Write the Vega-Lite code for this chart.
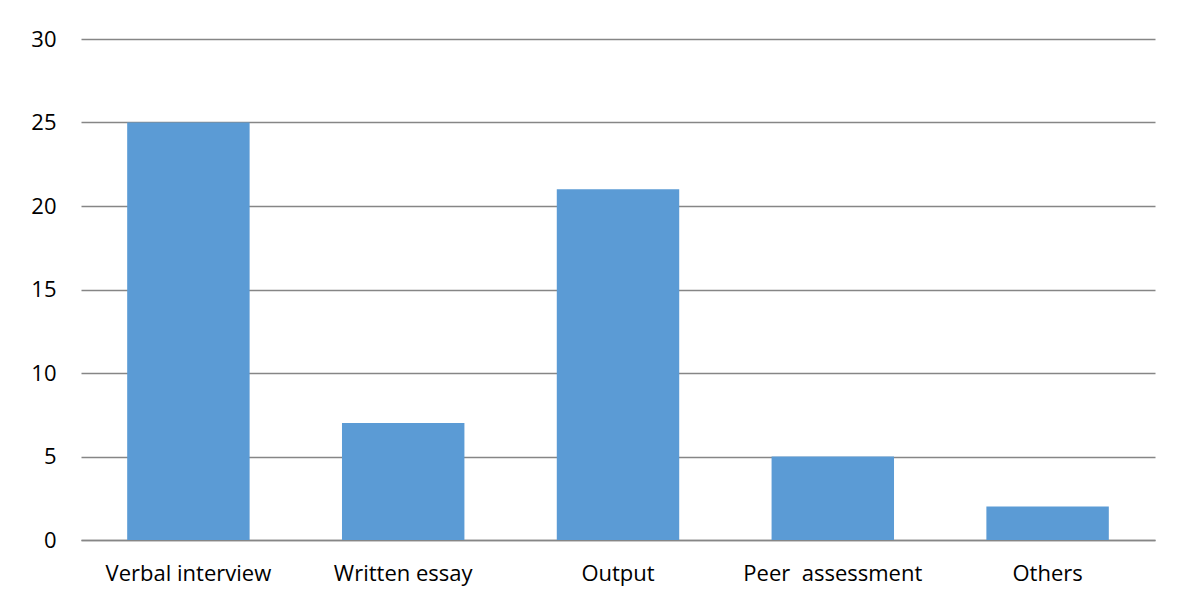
{
  "$schema": "https://vega.github.io/schema/vega-lite/v6.json",
  "width": 1074,
  "height": 501,
  "padding": {"left": 81, "top": 39, "right": 36, "bottom": 64},
  "autosize": {"type": "none"},
  "background": "white",
  "config": {
    "view": {"stroke": null},
    "font": "Open Sans"
  },
  "data": {
    "values": [
      {"category": "Verbal interview", "value": 25},
      {"category": "Written essay", "value": 7},
      {"category": "Output", "value": 21},
      {"category": "Peer\u00a0 assessment", "value": 5},
      {"category": "Others", "value": 2}
    ]
  },
  "mark": {"type": "bar", "color": "#5B9BD5"},
  "encoding": {
    "x": {
      "field": "category",
      "type": "nominal",
      "sort": null,
      "scale": {"paddingInner": 0.43, "paddingOuter": 0.215},
      "axis": {
        "title": null,
        "labelAngle": 0,
        "labelFontSize": 22,
        "labelColor": "#000000",
        "labelPadding": 23,
        "ticks": false,
        "domainColor": "#868686",
        "domainWidth": 1.3,
        "grid": false
      }
    },
    "y": {
      "field": "value",
      "type": "quantitative",
      "scale": {"domain": [0, 30]},
      "axis": {
        "title": null,
        "values": [0, 5, 10, 15, 20, 25, 30],
        "labelFontSize": 22,
        "labelColor": "#000000",
        "labelPadding": 25,
        "ticks": false,
        "domain": false,
        "gridColor": "#868686",
        "gridWidth": 1.3
      }
    }
  }
}
